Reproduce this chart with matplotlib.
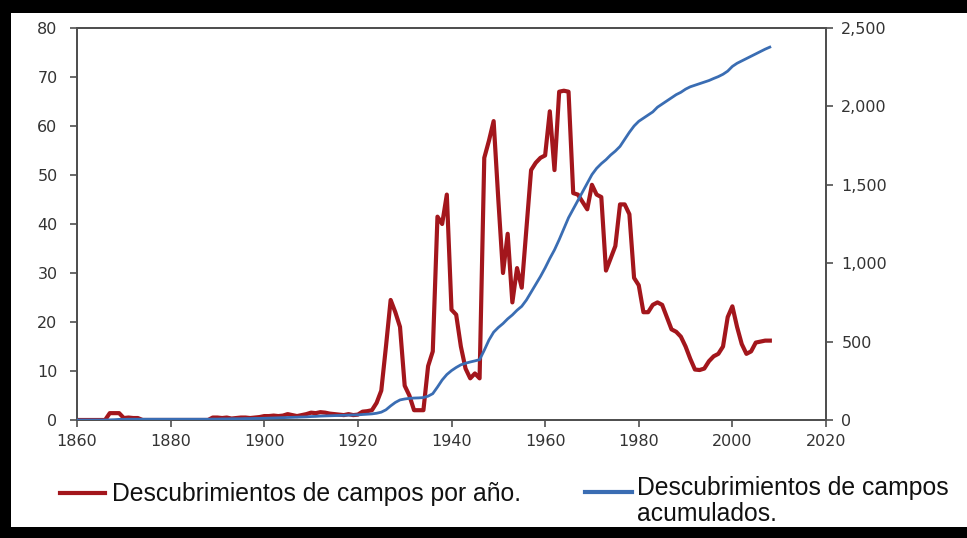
import numpy as np
import matplotlib
matplotlib.use('Agg')
import matplotlib.pyplot as plt
from matplotlib.lines import Line2D
from matplotlib.patches import Rectangle
from matplotlib.ticker import FuncFormatter

# years 1860..2008
years = np.arange(1860, 2009)

# field discoveries per year (left axis)
per_year = (
    [0, 0, 0, 0, 0, 0, 0, 1.4, 1.4, 1.4]                       # 1860s
    + [0.4, 0.5, 0.4, 0.4, 0, 0, 0, 0, 0, 0]                   # 1870s
    + [0, 0, 0, 0, 0, 0, 0, 0, 0, 0.5]                         # 1880s
    + [0.5, 0.4, 0.5, 0.3, 0.4, 0.5, 0.5, 0.4, 0.5, 0.6]       # 1890s
    + [0.8, 0.8, 0.9, 0.8, 0.9, 1.2, 1.0, 0.8, 1.0, 1.2]       # 1900s
    + [1.5, 1.4, 1.6, 1.5, 1.3, 1.2, 1.1, 1.0, 1.2, 1.0]       # 1910s
    + [1.1, 1.7, 1.8, 2.0, 3.5, 6, 15, 24.5, 22, 19]           # 1920s
    + [7, 5, 2, 2, 2, 11, 14, 41.5, 40, 46]                    # 1930s
    + [22.5, 21.5, 15, 10.5, 8.5, 9.5, 8.5, 53.5, 57, 61]      # 1940s
    + [45, 30, 38, 24, 31, 27, 39, 51, 52.5, 53.5]             # 1950s
    + [54, 63, 51, 67, 67.2, 67, 46.3, 46, 44.5, 43]           # 1960s
    + [48, 46, 45.5, 30.5, 33, 35.5, 44, 44, 42, 29]           # 1970s
    + [27.5, 22, 22, 23.5, 24, 23.5, 21, 18.5, 18, 17]         # 1980s
    + [15, 12.5, 10.3, 10.2, 10.5, 12, 13, 13.5, 15, 21]       # 1990s
    + [23.2, 19, 15.5, 13.5, 14, 15.8, 16, 16.2, 16.2]         # 2000-2008
)

# cumulative discoveries (right axis)
cumulative = (
    [0, 0, 0, 0, 0, 0, 0, 1, 2, 4]
    + [4, 5, 5, 5, 5, 5, 5, 5, 5, 5]
    + [5, 5, 5, 5, 5, 5, 5, 5, 5, 6]
    + [6, 7, 7, 8, 8, 8, 9, 9, 10, 10]
    + [11, 12, 13, 14, 15, 16, 17, 18, 19, 20]
    + [22, 23, 25, 26, 27, 28, 29, 30, 31, 32]
    + [33, 35, 37, 39, 43, 50, 65, 90, 112, 128]
    + [134, 138, 140, 141, 143, 152, 168, 210, 255, 290]
    + [315, 335, 352, 362, 370, 377, 385, 445, 510, 560]
    + [590, 615, 645, 670, 700, 725, 765, 815, 865, 915]
    + [970, 1030, 1085, 1150, 1220, 1290, 1345, 1400, 1455, 1510]
    + [1565, 1605, 1635, 1660, 1690, 1715, 1745, 1790, 1835, 1875]
    + [1905, 1925, 1945, 1965, 1995, 2015, 2035, 2055, 2075, 2090]
    + [2110, 2125, 2135, 2145, 2155, 2165, 2178, 2190, 2205, 2225]
    + [2255, 2275, 2290, 2305, 2320, 2335, 2350, 2365, 2378]
)

x_ticks = list(range(1860, 2021, 20))
left_ticks = list(range(0, 81, 10))
right_ticks = list(range(0, 2501, 500))

label_red = 'Descubrimientos de campos por año.'
label_blue = 'Descubrimientos de campos\nacumulados.'

red = '#A3161C'
blue = '#3A6DB3'
axis_col = '#505050'
text_col = '#333333'

W, H = 967, 538
fig = plt.figure(figsize=(W / 100, H / 100), dpi=100)
fig.patch.set_facecolor('white')

ax = fig.add_axes([77 / W, 1 - 420 / H, (826 - 77) / W, (420 - 28) / H])
ax2 = ax.twinx()

ax.plot(years, per_year, color=red, lw=3.0, solid_joinstyle='round', zorder=3)
ax2.plot(years, cumulative, color=blue, lw=2.0, zorder=3)

ax.set_xlim(1860, 2020)
ax.set_ylim(0, 80)
ax2.set_ylim(0, 2500)
ax.set_xticks(x_ticks)
ax.set_yticks(left_ticks)
ax2.set_yticks(right_ticks)
ax2.yaxis.set_major_formatter(FuncFormatter(lambda v, p: f'{int(v):,}'))

for a in (ax, ax2):
    for s in a.spines.values():
        s.set_color(axis_col)
        s.set_linewidth(1.4)
ax.tick_params(axis='x', direction='out', length=5, width=1.2, colors=axis_col,
               labelcolor=text_col, labelsize=11.5, pad=5)
ax.tick_params(axis='y', direction='out', length=5, width=1.2, colors=axis_col,
               labelcolor=text_col, labelsize=11.5, pad=9)
ax2.tick_params(axis='y', direction='out', length=5, width=1.2, colors=axis_col,
                labelcolor=text_col, labelsize=11.5, pad=6)

# legend drawn below the plot
fig.add_artist(Line2D([60 / W, 105 / W], [1 - 493 / H] * 2, color=red, lw=3,
                      transform=fig.transFigure))
fig.text(112 / W, 1 - 494 / H, label_red, fontsize=17.8, family='Liberation Sans',
         va='center', ha='left', color='#111111')
fig.add_artist(Line2D([585 / W, 632 / W], [1 - 492 / H] * 2, color=blue, lw=3,
                      transform=fig.transFigure))
fig.text(637 / W, 1 - 501 / H, label_blue, fontsize=17.8, family='Liberation Sans',
         va='center', ha='left', color='#111111', linespacing=1.12)

# dark frame around the picture (left, top, bottom)
fig.add_artist(Rectangle((0, 0), 11 / W, 1, transform=fig.transFigure,
                         facecolor='black', edgecolor='none'))
fig.add_artist(Rectangle((0, 1 - 13 / H), 1, 13 / H, transform=fig.transFigure,
                         facecolor='black', edgecolor='none'))
fig.add_artist(Rectangle((0, 0), 1, 11 / H, transform=fig.transFigure,
                         facecolor='black', edgecolor='none'))

fig.savefig('out.png', dpi=100, facecolor='white')
